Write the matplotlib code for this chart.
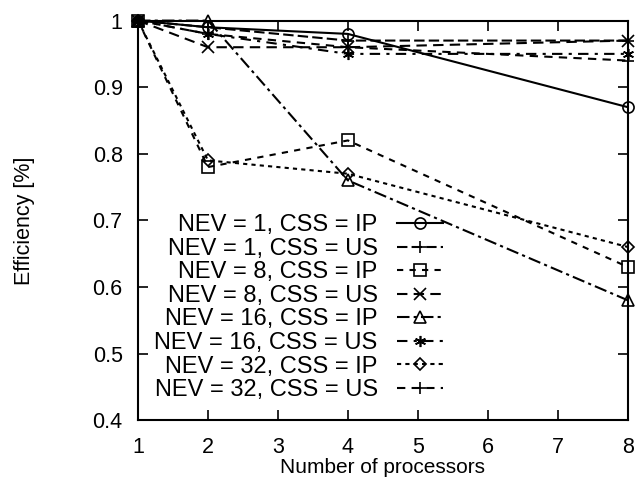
import matplotlib
matplotlib.use("Agg")
import matplotlib.pyplot as plt

plt.rcParams['font.family'] = ['Liberation Sans', 'DejaVu Sans']

processors = [1, 2, 4, 8]

labels = [
    "NEV = 1, CSS = IP",
    "NEV = 1, CSS = US",
    "NEV = 8, CSS = IP",
    "NEV = 8, CSS = US",
    "NEV = 16, CSS = IP",
    "NEV = 16, CSS = US",
    "NEV = 32, CSS = IP",
    "NEV = 32, CSS = US",
]

eff_nev1_ip = [1.00, 0.99, 0.98, 0.87]
eff_nev1_us = [1.00, 0.99, 0.97, 0.97]
eff_nev8_ip = [1.00, 0.78, 0.82, 0.63]
eff_nev8_us = [1.00, 0.96, 0.96, 0.97]
eff_nev16_ip = [1.00, 1.00, 0.76, 0.58]
eff_nev16_us = [1.00, 0.98, 0.95, 0.95]
eff_nev32_ip = [1.00, 0.79, 0.77, 0.66]
eff_nev32_us = [1.00, 0.98, 0.96, 0.94]

series = [eff_nev1_ip, eff_nev1_us, eff_nev8_ip, eff_nev8_us,
          eff_nev16_ip, eff_nev16_us, eff_nev32_ip, eff_nev32_us]

styles = [
    dict(linestyle='-', marker='o'),
    dict(linestyle=(0, (5, 2)), marker='+'),
    dict(linestyle=(0, (3, 3)), marker='s'),
    dict(linestyle=(0, (5, 3)), marker='x'),
    dict(linestyle=(0, (6, 2, 1.5, 2)), marker='^'),
    dict(linestyle=(0, (5, 3, 1.5, 3)), marker=(6, 2, 0)),
    dict(linestyle=(0, (2, 2)), marker='D'),
    dict(linestyle=(0, (4, 3)), marker='+'),
]

fig = plt.figure(figsize=(6.36, 4.79), dpi=100)
ax = fig.add_axes([0.217, 0.123, 0.770, 0.834])

for vals, lab, st in zip(series, labels, styles):
    ms = 8 if st['marker'] != 'D' else 6
    ax.plot(processors, vals, color='black', linewidth=1.5,
            markersize=ms, markerfacecolor='none', markeredgecolor='black',
            markeredgewidth=1.2, label=lab, clip_on=False, **st)

ax.set_xlim(1, 8)
ax.set_ylim(0.4, 1.0)
ax.set_xticks(range(1, 9))
ax.set_yticks([0.4, 0.5, 0.6, 0.7, 0.8, 0.9, 1.0])
ax.set_yticklabels(["0.4", "0.5", "0.6", "0.7", "0.8", "0.9", "1"])
ax.tick_params(direction='in', length=7, width=1.2, top=True, right=True,
               labelsize=15.5, colors='black')
ax.tick_params(axis='x', pad=12)
ax.tick_params(axis='y', pad=11)
for sp in ax.spines.values():
    sp.set_linewidth(1.5)

ax.set_xlabel("Number of processors", fontsize=15, va='center')
ax.xaxis.set_label_coords(0.5, -0.118)
ax.set_ylabel("Efficiency [%]", fontsize=15.5, va='center')
ax.yaxis.set_label_coords(-0.232, 0.5)

leg = ax.legend(loc='upper right', bbox_to_anchor=(0.622, 0.515), frameon=False,
                markerfirst=False, fontsize=17, handlelength=1.95,
                handletextpad=0.8, labelspacing=0.065, borderaxespad=0.0,
                borderpad=0.0)
for t in leg.get_texts():
    t.set_ha('right')
leg._legend_box.align = 'right'

fig.savefig("out.png", dpi=100)
